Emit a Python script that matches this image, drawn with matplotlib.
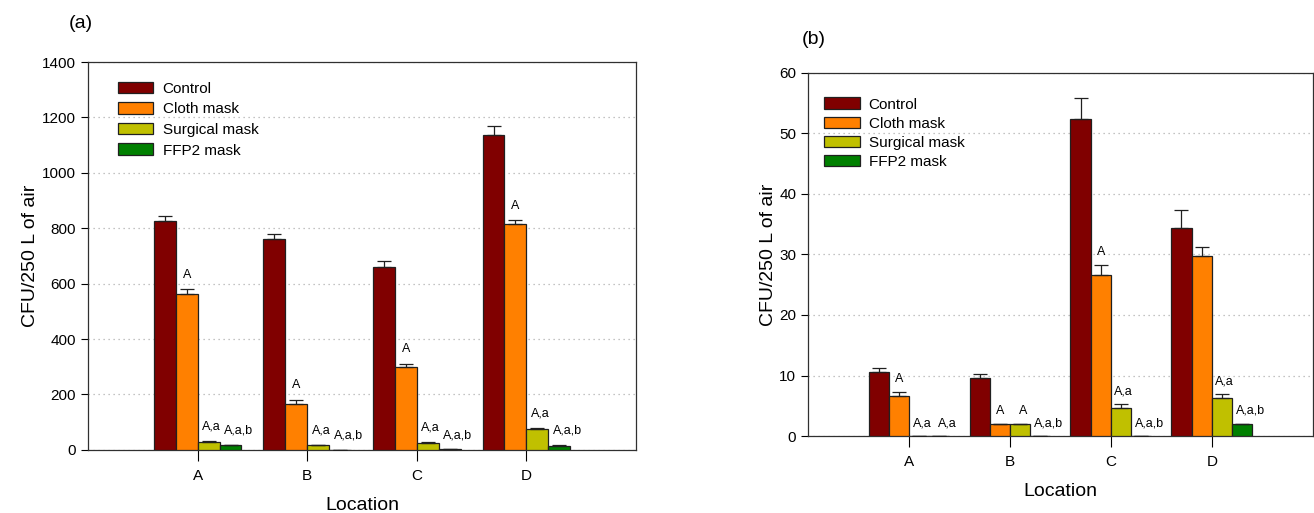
import numpy as np
import matplotlib
matplotlib.use('Agg')
import matplotlib.pyplot as plt

# data
locations = ['A', 'B', 'C', 'D']
series = ['Control', 'Cloth mask', 'Surgical mask', 'FFP2 mask']
colors = ['#800000', '#FF8000', '#C0C000', '#008000']

# panel (a)
a_control = [826, 760, 661, 1135]
a_cloth = [561, 167, 298, 815]
a_surgical = [29, 16, 25, 75]
a_ffp2 = [17, 0, 1.5, 14]
a_control_err = [18, 18, 22, 36]
a_cloth_err = [19, 14, 13, 15]
a_surgical_err = [3, 2, 3, 3]
a_ffp2_err = [2, 0, 0, 3]
a_labels = [
    ['', '', '', ''],
    ['A', 'A', 'A', 'A'],
    ['A,a', 'A,a', 'A,a', 'A,a'],
    ['A,a,b', 'A,a,b', 'A,a,b', 'A,a,b'],
]

# panel (b)
b_control = [10.6, 9.6, 52.4, 34.3]
b_cloth = [6.65, 2.0, 26.6, 29.7]
b_surgical = [0, 2.0, 4.7, 6.3]
b_ffp2 = [0, 0, 0, 2.0]
b_control_err = [0.65, 0.6, 3.5, 3.1]
b_cloth_err = [0.6, 0, 1.6, 1.5]
b_surgical_err = [0, 0, 0.6, 0.6]
b_ffp2_err = [0, 0, 0, 0]
b_labels = [
    ['', '', '', ''],
    ['A', 'A', 'A', ''],
    ['A,a', 'A', 'A,a', 'A,a'],
    ['A,a', 'A,a,b', 'A,a,b', 'A,a,b'],
]

plt.rcParams['font.family'] = ['Liberation Sans', 'DejaVu Sans']

fig = plt.figure(figsize=(13.14, 5.13), dpi=100)
ax1 = fig.add_axes([0.067, 0.123, 0.417, 0.756])
ax2 = fig.add_axes([0.615, 0.150, 0.384, 0.708])

# small sideways nudge of the letters, in points, per series
label_dx = [0, 0, 2, 6]


def draw_panel(ax, vals, errs, labels, ymax, ystep, label_off, leg_x, leg_y, leg_space):
    x = np.arange(1, len(locations) + 1)
    w = 0.2
    offsets = [-0.3, -0.1, 0.1, 0.3]
    for i in range(len(series)):
        ax.bar(x + offsets[i], vals[i], w, color=colors[i], edgecolor='#202020',
               linewidth=0.9, label=series[i], zorder=3)
        e = np.array(errs[i])
        ax.errorbar(x + offsets[i], vals[i], yerr=[np.zeros_like(e), e], fmt='none',
                    ecolor='#202020', elinewidth=0.9, capsize=5, capthick=0.9, zorder=4)
        for j in range(len(x)):
            if labels[i][j]:
                ax.annotate(labels[i][j], (x[j] + offsets[i], vals[i][j] + errs[i][j]),
                            xytext=(label_dx[i], label_off), textcoords='offset points',
                            ha='center', va='bottom', fontsize=9)
    ax.set_xlim(0, 5)
    ax.set_ylim(0, ymax)
    ax.set_xticks(x)
    ax.set_xticklabels(locations, fontsize=11)
    ax.set_yticks(np.arange(0, ymax + 1, ystep))
    ax.tick_params(axis='y', labelsize=11, direction='out', length=5)
    ax.tick_params(axis='x', direction='out', length=8, pad=6)
    ax.grid(axis='y', linestyle=(0, (1, 3)), color='#b0b0b0', linewidth=0.9, zorder=0)
    for s in ax.spines.values():
        s.set_linewidth(0.9)
        s.set_color('#303030')
    ax.set_xlabel('Location', fontsize=14, labelpad=10)
    ax.set_ylabel('CFU/250 L of air', fontsize=14, labelpad=2)
    ax.legend(loc='upper left', bbox_to_anchor=(leg_x, leg_y), frameon=False,
              fontsize=11, handlelength=2.3, handleheight=0.8, labelspacing=leg_space,
              handletextpad=0.6)


draw_panel(ax1, [a_control, a_cloth, a_surgical, a_ffp2],
           [a_control_err, a_cloth_err, a_surgical_err, a_ffp2_err],
           a_labels, 1400, 200, 6, 0.03, 0.985, 0.42)
draw_panel(ax2, [b_control, b_cloth, b_surgical, b_ffp2],
           [b_control_err, b_cloth_err, b_surgical_err, b_ffp2_err],
           b_labels, 60, 10, 5, 0.005, 0.97, 0.32)

fig.text(0.052, 0.945, '(a)', fontsize=14)
fig.text(0.610, 0.915, '(b)', fontsize=14)

fig.savefig('out.png', dpi=100)
